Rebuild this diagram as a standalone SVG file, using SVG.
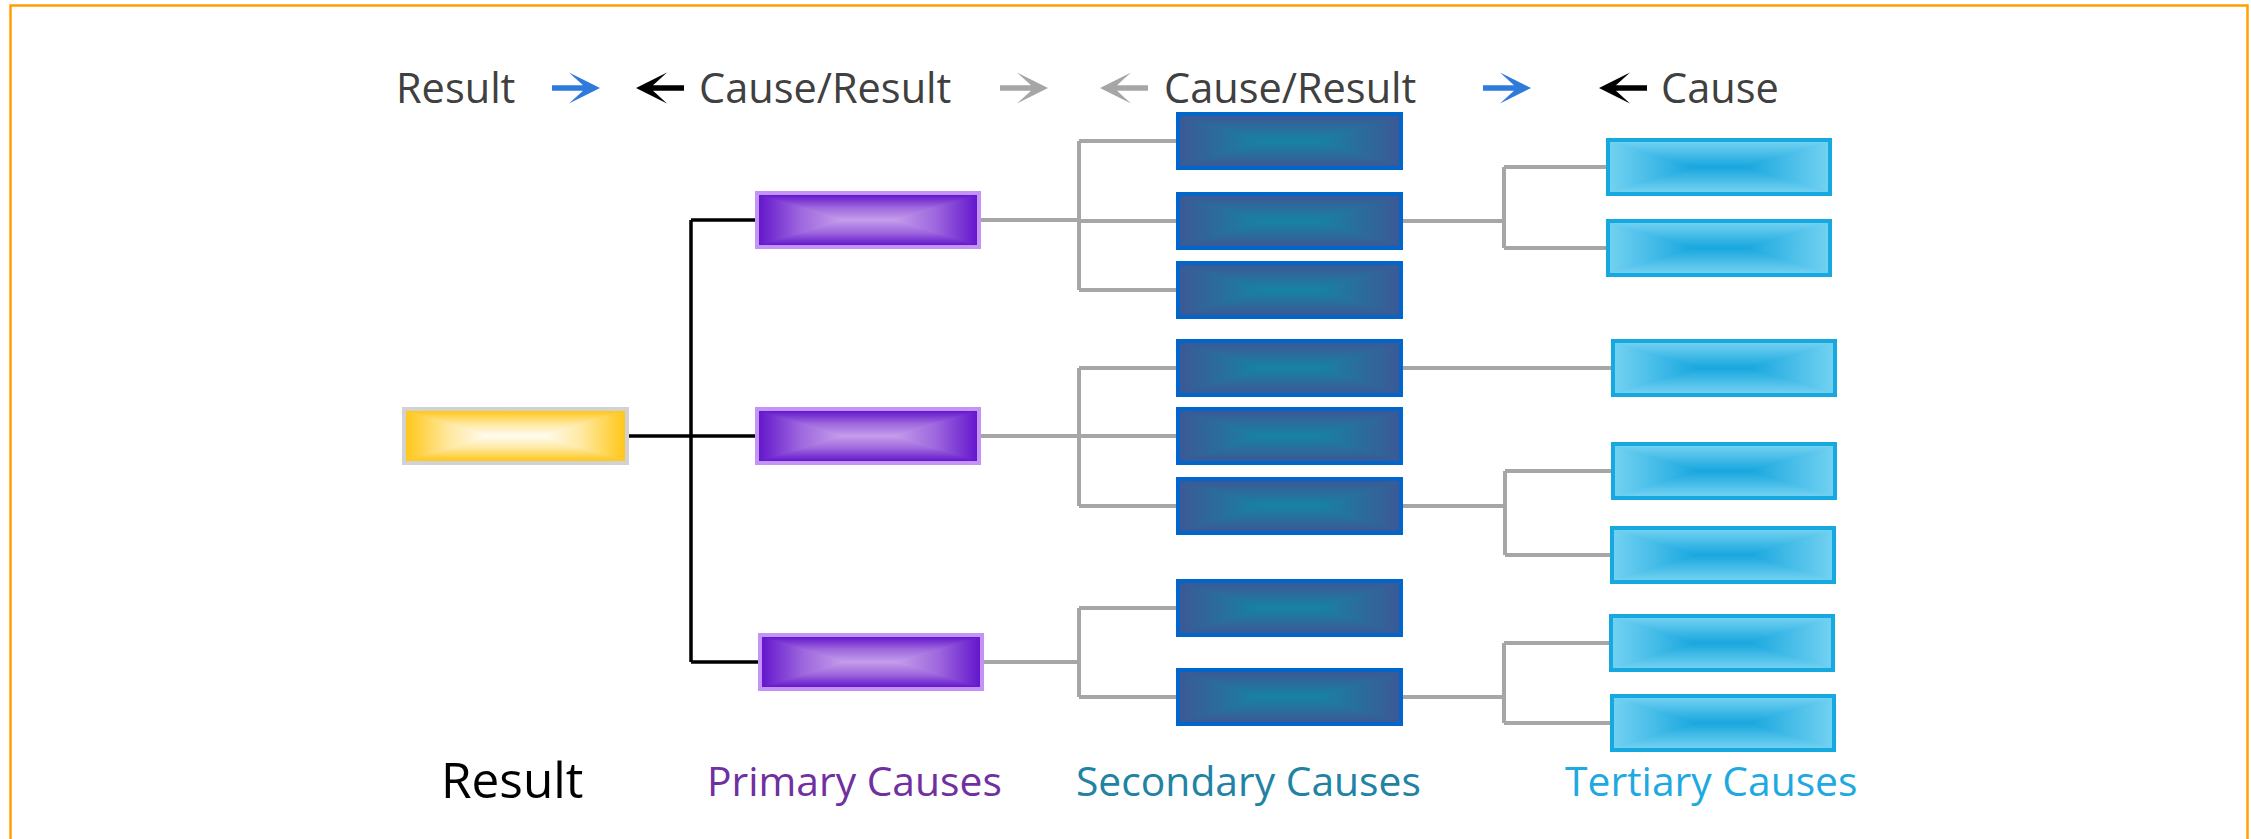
<svg xmlns="http://www.w3.org/2000/svg" xmlns:xlink="http://www.w3.org/1999/xlink" width="2251" height="839" viewBox="0 0 2251 839">
  <style>
    .hdr { font-family: "Open Sans", "Liberation Sans", sans-serif; font-size: 41.5px; fill: #404040; }
    .lbl { font-family: "Open Sans", "Liberation Sans", sans-serif; font-size: 40.8px; }
    .lbl-big { font-size: 49.5px; }
    .ln-k { fill: none; stroke: #000; stroke-width: 3.5; }
    .ln-g { fill: none; stroke: #a6a6a6; stroke-width: 4; }
    .bd { fill: none; stroke-width: 4; }
    .bd-y { stroke: #d2d2d2; }
    .bd-p { stroke: #c493f6; }
    .bd-s { stroke: #0066cc; }
    .bd-t { stroke: #16a9df; }
  </style>
  <defs>
    <!-- box gradients: horizontal base with a short flat centre band, plus vertical top/bottom trapezoids.
         Stops sit at the same fractions (0, .5, 1) of the edge-to-centre distance in both directions. -->
    <linearGradient id="yH" x1="0" y1="0" x2="1" y2="0"><stop offset="0" stop-color="#ffc719"/><stop offset="0.19" stop-color="#ffe79c"/><stop offset="0.38" stop-color="#fffcf3"/><stop offset="0.62" stop-color="#fffcf3"/><stop offset="0.81" stop-color="#ffe79c"/><stop offset="1" stop-color="#ffc719"/></linearGradient>
    <linearGradient id="yV" x1="0" y1="0" x2="0" y2="1"><stop offset="0" stop-color="#ffc719"/><stop offset="0.25" stop-color="#ffe79c"/><stop offset="0.5" stop-color="#fffcf3"/><stop offset="0.75" stop-color="#ffe79c"/><stop offset="1" stop-color="#ffc719"/></linearGradient>
    <linearGradient id="pH" x1="0" y1="0" x2="1" y2="0"><stop offset="0" stop-color="#6417cc"/><stop offset="0.19" stop-color="#9e67de"/><stop offset="0.38" stop-color="#c59dea"/><stop offset="0.62" stop-color="#c59dea"/><stop offset="0.81" stop-color="#9e67de"/><stop offset="1" stop-color="#6417cc"/></linearGradient>
    <linearGradient id="pV" x1="0" y1="0" x2="0" y2="1"><stop offset="0" stop-color="#6417cc"/><stop offset="0.25" stop-color="#9e67de"/><stop offset="0.5" stop-color="#c59dea"/><stop offset="0.75" stop-color="#9e67de"/><stop offset="1" stop-color="#6417cc"/></linearGradient>
    <linearGradient id="sH" x1="0" y1="0" x2="1" y2="0"><stop offset="0" stop-color="#3b5996"/><stop offset="0.19" stop-color="#296e9d"/><stop offset="0.38" stop-color="#1683a3"/><stop offset="0.62" stop-color="#1683a3"/><stop offset="0.81" stop-color="#296e9d"/><stop offset="1" stop-color="#3b5996"/></linearGradient>
    <linearGradient id="sV" x1="0" y1="0" x2="0" y2="1"><stop offset="0" stop-color="#3b5996"/><stop offset="0.25" stop-color="#296e9d"/><stop offset="0.5" stop-color="#1683a3"/><stop offset="0.75" stop-color="#296e9d"/><stop offset="1" stop-color="#3b5996"/></linearGradient>
    <linearGradient id="tH" x1="0" y1="0" x2="1" y2="0"><stop offset="0" stop-color="#72d1f1"/><stop offset="0.19" stop-color="#45bce8"/><stop offset="0.38" stop-color="#18a7de"/><stop offset="0.62" stop-color="#18a7de"/><stop offset="0.81" stop-color="#45bce8"/><stop offset="1" stop-color="#72d1f1"/></linearGradient>
    <linearGradient id="tV" x1="0" y1="0" x2="0" y2="1"><stop offset="0" stop-color="#72d1f1"/><stop offset="0.25" stop-color="#45bce8"/><stop offset="0.5" stop-color="#18a7de"/><stop offset="0.75" stop-color="#45bce8"/><stop offset="1" stop-color="#72d1f1"/></linearGradient>

    <symbol id="fillY" viewBox="0 0 100 100" preserveAspectRatio="none">
      <rect width="100" height="100" fill="url(#yH)"/>
      <path d="M0,0 H100 L62,50 H38 Z M0,100 H100 L62,50 H38 Z" fill="url(#yV)"/>
    </symbol>
    <symbol id="fillP" viewBox="0 0 100 100" preserveAspectRatio="none">
      <rect width="100" height="100" fill="url(#pH)"/>
      <path d="M0,0 H100 L62,50 H38 Z M0,100 H100 L62,50 H38 Z" fill="url(#pV)"/>
    </symbol>
    <symbol id="fillS" viewBox="0 0 100 100" preserveAspectRatio="none">
      <rect width="100" height="100" fill="url(#sH)"/>
      <path d="M0,0 H100 L62,50 H38 Z M0,100 H100 L62,50 H38 Z" fill="url(#sV)"/>
    </symbol>
    <symbol id="fillT" viewBox="0 0 100 100" preserveAspectRatio="none">
      <rect width="100" height="100" fill="url(#tH)"/>
      <path d="M0,0 H100 L62,50 H38 Z M0,100 H100 L62,50 H38 Z" fill="url(#tV)"/>
    </symbol>

    <!-- header arrow, tip at origin pointing right -->
    <path id="arrowR" d="M-48,-2.7 H-17 L-31,-15.5 L0,0 L-31,15.5 L-17,2.7 H-48 Z"/>
  </defs>

  <rect width="2251" height="839" fill="#fff"/>
  <rect x="10.5" y="5.5" width="2237" height="900" fill="none" stroke="#ffa000" stroke-width="2.5"/>

  <!-- header row -->
  <g id="header">
    <text class="hdr" x="396" y="103">Result</text>
    <use href="#arrowR" x="600" y="88" fill="#2f7bdb"/>
    <use href="#arrowR" transform="translate(636,88) scale(-1,1)" fill="#000"/>
    <text class="hdr" x="699" y="103">Cause/Result</text>
    <use href="#arrowR" x="1048" y="88" fill="#a6a6a6"/>
    <use href="#arrowR" transform="translate(1100,88) scale(-1,1)" fill="#a6a6a6"/>
    <text class="hdr" x="1164" y="103">Cause/Result</text>
    <use href="#arrowR" x="1531" y="88" fill="#2f7bdb"/>
    <use href="#arrowR" transform="translate(1599,88) scale(-1,1)" fill="#000"/>
    <text class="hdr" x="1661" y="103">Cause</text>
  </g>

  <!-- connectors -->
  <g id="connectors">
    <path class="ln-k" d="M629,436 H691 M691,220 V662 M691,220 H755 M691,436 H755 M691,662 H758"/>
    <path class="ln-g" d="M981,220 H1079 M1079,141 V290 M1079,141 H1176 M1079,221 H1176 M1079,290 H1176"/>
    <path class="ln-g" d="M1403,221 H1504 M1504,167 V248 M1504,167 H1606 M1504,248 H1606"/>
    <path class="ln-g" d="M981,436 H1079 M1079,368 V506 M1079,368 H1176 M1079,436 H1176 M1079,506 H1176"/>
    <path class="ln-g" d="M1403,368 H1611"/>
    <path class="ln-g" d="M1403,506 H1505 M1505,471 V555 M1505,471 H1611 M1505,555 H1610"/>
    <path class="ln-g" d="M984,662 H1079 M1079,608 V697 M1079,608 H1176 M1079,697 H1176"/>
    <path class="ln-g" d="M1403,697 H1504 M1504,643 V723 M1504,643 H1609 M1504,723 H1610"/>
  </g>

  <!-- result -->
  <g id="result">
    <use href="#fillY" x="406" y="411" width="219" height="50"/>
    <rect class="bd bd-y" x="404" y="409" width="223" height="54"/>
  </g>

  <!-- primary causes -->
  <g id="primary-1">
    <use href="#fillP" x="759" y="195" width="218" height="50"/>
    <rect class="bd bd-p" x="757" y="193" width="222" height="54"/>
  </g>
  <g id="primary-2">
    <use href="#fillP" x="759" y="411" width="218" height="50"/>
    <rect class="bd bd-p" x="757" y="409" width="222" height="54"/>
  </g>
  <g id="primary-3">
    <use href="#fillP" x="762" y="637" width="218" height="50"/>
    <rect class="bd bd-p" x="760" y="635" width="222" height="54"/>
  </g>

  <!-- secondary causes -->
  <g id="secondary-1"><use href="#fillS" x="1180" y="116" width="219" height="50"/><rect class="bd bd-s" x="1178" y="114" width="223" height="54"/></g>
  <g id="secondary-2"><use href="#fillS" x="1180" y="196" width="219" height="50"/><rect class="bd bd-s" x="1178" y="194" width="223" height="54"/></g>
  <g id="secondary-3"><use href="#fillS" x="1180" y="265" width="219" height="50"/><rect class="bd bd-s" x="1178" y="263" width="223" height="54"/></g>
  <g id="secondary-4"><use href="#fillS" x="1180" y="343" width="219" height="50"/><rect class="bd bd-s" x="1178" y="341" width="223" height="54"/></g>
  <g id="secondary-5"><use href="#fillS" x="1180" y="411" width="219" height="50"/><rect class="bd bd-s" x="1178" y="409" width="223" height="54"/></g>
  <g id="secondary-6"><use href="#fillS" x="1180" y="481" width="219" height="50"/><rect class="bd bd-s" x="1178" y="479" width="223" height="54"/></g>
  <g id="secondary-7"><use href="#fillS" x="1180" y="583" width="219" height="50"/><rect class="bd bd-s" x="1178" y="581" width="223" height="54"/></g>
  <g id="secondary-8"><use href="#fillS" x="1180" y="672" width="219" height="50"/><rect class="bd bd-s" x="1178" y="670" width="223" height="54"/></g>

  <!-- tertiary causes -->
  <g id="tertiary-1"><use href="#fillT" x="1610" y="142" width="218" height="50"/><rect class="bd bd-t" x="1608" y="140" width="222" height="54"/></g>
  <g id="tertiary-2"><use href="#fillT" x="1610" y="223" width="218" height="50"/><rect class="bd bd-t" x="1608" y="221" width="222" height="54"/></g>
  <g id="tertiary-3"><use href="#fillT" x="1615" y="343" width="218" height="50"/><rect class="bd bd-t" x="1613" y="341" width="222" height="54"/></g>
  <g id="tertiary-4"><use href="#fillT" x="1615" y="446" width="218" height="50"/><rect class="bd bd-t" x="1613" y="444" width="222" height="54"/></g>
  <g id="tertiary-5"><use href="#fillT" x="1614" y="530" width="218" height="50"/><rect class="bd bd-t" x="1612" y="528" width="222" height="54"/></g>
  <g id="tertiary-6"><use href="#fillT" x="1613" y="618" width="218" height="50"/><rect class="bd bd-t" x="1611" y="616" width="222" height="54"/></g>
  <g id="tertiary-7"><use href="#fillT" x="1614" y="698" width="218" height="50"/><rect class="bd bd-t" x="1612" y="696" width="222" height="54"/></g>

  <!-- column captions -->
  <g id="captions">
    <text class="lbl lbl-big" x="441" y="798" fill="#000">Result</text>
    <text class="lbl" x="707" y="796" fill="#7030a0">Primary Causes</text>
    <text class="lbl" x="1076" y="796" fill="#2083a4">Secondary Causes</text>
    <text class="lbl" x="1565" y="796" fill="#1ea9e0">Tertiary Causes</text>
  </g>
</svg>
